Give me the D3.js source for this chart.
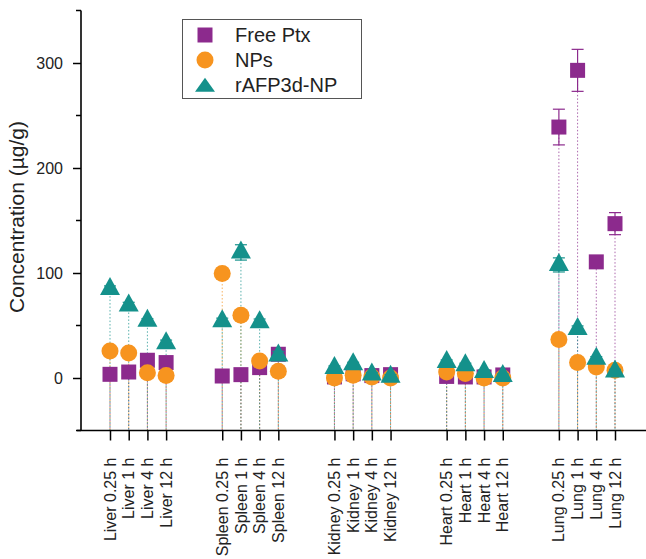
<!DOCTYPE html>
<html>
<head>
<meta charset="utf-8">
<script src="https://cdn.jsdelivr.net/npm/d3@7"></script>
<style>
  html, body { margin: 0; padding: 0; background: #fff; }
  svg { display: block; font-family: "Liberation Sans", Arial, sans-serif; }
</style>
</head>
<body>
<svg id="chart" width="646" height="559"></svg>
<script>
// Tissue distribution of paclitaxel, grouped by organ and time point
const organs = ["Liver", "Spleen", "Kidney", "Heart", "Lung"];
const times = ["0.25 h", "1 h", "4 h", "12 h"];

// Concentration (µg/g), one value per organ/time, organ-major order
const freePtx = [3.5, 5.7, 16.9, 14.7, 1.9, 3.2, 9.9, 22.6, 1.0, 4.0, 2.3, 3.2, 1.5, 1.0, 1.0, 2.9, 239, 293, 110.6, 147];
const nps     = [25.7, 23.8, 5.1, 2.3, 99.5, 59.8, 16.2, 6.4, 0.0, 2.6, 1.0, 0.0, 5.7, 4.2, 0.0, 0.0, 36.6, 14.7, 10.5, 7.3];
const rafp    = [84.7, 69.1, 54.5, 33.1, 54.0, 119.6, 53.2, 21.4, 9.5, 13.0, 3.3, 1.3, 15.2, 12.1, 5.6, 1.8, 107.7, 46.6, 18.4, 6.3];

// Standard deviations
const freePtxErr = [2, 2, 3, 3, 1, 1, 2, 3, 1, 1, 1, 1, 1, 1, 1, 1, 17, 20, 4, 10.5];
const npsErr     = [2, 2, 1, 1, 5, 4, 2, 1, 1, 1, 1, 1, 1, 1, 1, 1, 3, 2, 2, 1];
const rafpErr    = [3, 3, 2, 3, 3, 7.3, 3, 4, 2, 2, 2, 2, 2, 2, 2, 2, 6.7, 3, 2, 2];

const seriesNames = ["Free Ptx", "NPs", "rAFP3d-NP"];
const yTicks = [0, 100, 200, 300];
const yMinorTicks = [-50, 50, 150, 250, 350];

const colors = { "Free Ptx": "#8c2a8d", "NPs": "#f7941f", "rAFP3d-NP": "#14918b" };
const shapes = { "Free Ptx": "square", "NPs": "circle", "rAFP3d-NP": "triangle" };

// Category labels and slot positions (two empty slots between organs)
const categories = [];
const slots = [];
organs.forEach((o, gi) => times.forEach((t, ti) => {
  categories.push(o + " " + t);
  slots.push(gi * 6 + ti + 1);
}));

const series = [
  { name: "Free Ptx", values: freePtx, errs: freePtxErr },
  { name: "NPs", values: nps, errs: npsErr },
  { name: "rAFP3d-NP", values: rafp, errs: rafpErr }
];

const svg = d3.select("#chart");

const x = d3.scaleLinear().domain([1, 28]).range([110, 615]);
const y = d3.scaleLinear().domain([-50, 350]).range([430.5, 10.5]);

const axisLeftX = 81;
const axisBottomY = y(-50);

// Marker paths; triangles are anchored at their centroid
function markerPath(shape, s) {
  if (shape === "square") {
    const h = s.sq / 2;
    return `M${-h},${-h}H${h}V${h}H${-h}Z`;
  }
  if (shape === "circle") {
    const r = s.r;
    return `M${r},0A${r},${r} 0 1,1 ${-r},0A${r},${r} 0 1,1 ${r},0Z`;
  }
  const w = s.tw / 2, h = s.th;
  return `M0,${-h * 2 / 3}L${w},${h / 3}L${-w},${h / 3}Z`;
}
const plotSize = { sq: 15, r: 8.5, tw: 20, th: 18 };
const legendSize = { sq: 15, r: 8.5, tw: 20, th: 14 };

const rows = [];
series.forEach(s => s.values.forEach((v, i) => {
  rows.push({ name: s.name, v, e: s.errs[i], xi: slots[i] });
}));

// Drop lines from each point down to the axis
svg.append("g").selectAll("line").data(rows).join("line")
  .attr("x1", d => x(d.xi)).attr("x2", d => x(d.xi))
  .attr("y1", d => y(d.v)).attr("y2", axisBottomY)
  .attr("stroke", d => colors[d.name])
  .attr("stroke-width", 1)
  .attr("stroke-dasharray", "1.5,2")
  .attr("opacity", 0.7);

// Markers with their error bars: squares, then circles, then triangles on top
series.forEach(s => {
  const g = svg.append("g");
  const data = rows.filter(r => r.name === s.name);
  const c = colors[s.name];
  const eb = g.append("g").attr("stroke", c).attr("stroke-width", 1.2);
  data.forEach(d => {
    const cx = x(d.xi), y1 = y(d.v + d.e), y0 = y(d.v - d.e);
    eb.append("line").attr("x1", cx).attr("x2", cx).attr("y1", y1).attr("y2", y0);
    eb.append("line").attr("x1", cx - 6).attr("x2", cx + 6).attr("y1", y1).attr("y2", y1);
    eb.append("line").attr("x1", cx - 6).attr("x2", cx + 6).attr("y1", y0).attr("y2", y0);
  });
  g.append("g").selectAll("path").data(data).join("path")
    .attr("d", markerPath(shapes[s.name], plotSize))
    .attr("transform", d => `translate(${x(d.xi)},${y(d.v)})`)
    .attr("fill", c);
});

// Y axis
const yAxis = svg.append("g").attr("transform", `translate(${axisLeftX},0)`)
  .call(d3.axisLeft(y).tickValues(yTicks).tickSize(8).tickPadding(10).tickFormat(d3.format("d")));
yAxis.select(".domain").remove();
yAxis.selectAll(".tick line").attr("stroke", "#000").attr("stroke-width", 1.5);
yAxis.selectAll(".tick text").attr("font-size", 16).attr("fill", "#222")
  .attr("font-family", "'Liberation Sans', Arial, sans-serif");
yAxis.append("g").selectAll("line").data(yMinorTicks).join("line")
  .attr("x1", -5).attr("x2", 0)
  .attr("y1", d => y(d)).attr("y2", d => y(d))
  .attr("stroke", "#000").attr("stroke-width", 1.5);
svg.append("line")
  .attr("x1", axisLeftX).attr("x2", axisLeftX)
  .attr("y1", y(350)).attr("y2", axisBottomY)
  .attr("stroke", "#000").attr("stroke-width", 1.6);

// X axis
const xAxis = svg.append("g").attr("transform", `translate(0,${axisBottomY})`)
  .call(d3.axisBottom(x).tickValues(slots).tickSize(10).tickFormat(""));
xAxis.select(".domain").remove();
xAxis.selectAll(".tick line").attr("stroke", "#000").attr("stroke-width", 1.5);
svg.append("line")
  .attr("x1", 77).attr("x2", 646)
  .attr("y1", axisBottomY).attr("y2", axisBottomY)
  .attr("stroke", "#000").attr("stroke-width", 1.6);

svg.append("g").selectAll("text").data(categories).join("text")
  .attr("transform", (d, i) => `translate(${x(slots[i])},${axisBottomY + 27}) rotate(-90)`)
  .attr("text-anchor", "end")
  .attr("dy", "0.35em")
  .attr("font-size", 16)
  .attr("fill", "#222")
  .text(d => d);

// Y axis title
svg.append("text")
  .attr("transform", `translate(24,217) rotate(-90)`)
  .attr("text-anchor", "middle")
  .attr("font-size", 21)
  .attr("fill", "#222")
  .text("Concentration (µg/g)");

// Legend
const legend = svg.append("g");
legend.append("rect")
  .attr("x", 182.5).attr("y", 19.5).attr("width", 179).attr("height", 79)
  .attr("fill", "#fff").attr("stroke", "#555").attr("stroke-width", 1);
const legendRows = [35, 60, 85];
seriesNames.forEach((n, i) => {
  legend.append("path")
    .attr("d", markerPath(shapes[n], legendSize))
    .attr("transform", `translate(205,${legendRows[i] + (shapes[n] === "triangle" ? 2 : 0)})`)
    .attr("fill", colors[n]);
  legend.append("text")
    .attr("x", 235).attr("y", legendRows[i])
    .attr("dy", "0.35em")
    .attr("font-size", 20)
    .attr("fill", "#222")
    .text(n);
});
</script>
</body>
</html>
